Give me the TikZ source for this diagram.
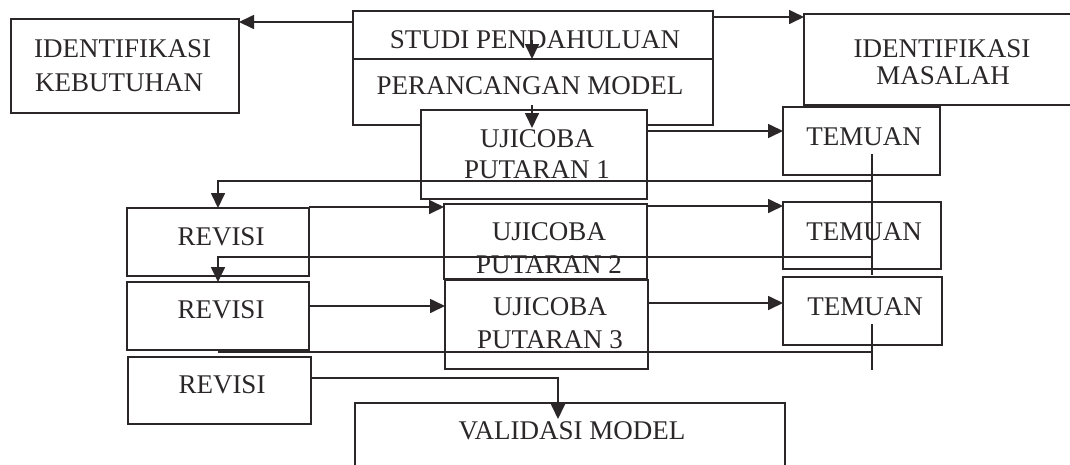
\documentclass[tikz,border=0pt]{standalone}
\usepackage{fontspec}
\setmainfont{Liberation Serif}
\usetikzlibrary{arrows.meta,fit}
\definecolor{ink}{HTML}{2B2728}
\tikzset{
  box/.style={draw=ink, line width=1.7pt, fill=white, inner sep=0pt, outer sep=0pt},
  lbl/.style={text=ink, font=\fontsize{27}{30}\selectfont, inner sep=0pt, anchor=base},
  conn/.style={draw=ink, line width=1.7pt},
  arr/.style={conn, -{Triangle[length=15pt,width=14pt]}},
}
\begin{document}
\begin{tikzpicture}[x=1pt,y=-1pt]
\useasboundingbox (0,0) rectangle (1070,464);
\fill[white] (0,0) rectangle (1070,464);
\clip (0,0) rectangle (1070,464);
% boxes
\node[box, fit={(11,19) (239,113)}] (keb) {};
\node[box, fit={(353,11) (713,125)}] (studi) {};
\draw[conn] (studi.west |- 0,59) -- (studi.east |- 0,59);
\node[box, fit={(804,14) (1090,105)}] (mas) {};
\node[box, fit={(421,110) (647,199)}] (u1) {};
\node[box, fit={(783,107) (940,175)}] (t1) {};
\node[box, fit={(444,204) (647,279)}] (u2) {};
\node[box, fit={(783,202) (941,269)}] (t2) {};
\node[box, fit={(127,208) (309,276)}] (r1) {};
\node[box, fit={(127,282) (309,350)}] (r2) {};
\node[box, fit={(445,280) (648,369)}] (u3) {};
\node[box, fit={(783,277) (942,345)}] (t3) {};
\node[box, fit={(128,357) (311,424)}] (r3) {};
\node[box, fit={(355,403) (785,490)}] (val) {};
% texts
\node[lbl, anchor=base west] (tk1) at (34,57) {IDENTIFIKASI};
\node[lbl, anchor=base west] (tk2) at (35,91) {KEBUTUHAN};
\node[lbl] (tm1) at (942,57) {IDENTIFIKASI};
\node[lbl] (tm2) at (943,84) {MASALAH};
\node[lbl] (ts) at (535,48) {STUDI PENDAHULUAN};
\node[lbl] (tp) at (530,94) {PERANCANGAN MODEL};
\node[lbl] (tu1a) at (537,147) {UJICOBA};
\node[lbl] (tu1b) at (537,178) {PUTARAN 1};
\node[lbl] (tu2a) at (549,240) {UJICOBA};
\node[lbl] (tu2b) at (549,273) {PUTARAN 2};
\node[lbl] (tu3a) at (550,315) {UJICOBA};
\node[lbl] (tu3b) at (550,348) {PUTARAN 3};
\node[lbl] (tr1) at (221,245) {REVISI};
\node[lbl] (tr2) at (221,318) {REVISI};
\node[lbl] (tr3) at (222,393) {REVISI};
\node[lbl] (tt1) at (864,145) {TEMUAN};
\node[lbl] (tt2) at (864,240) {TEMUAN};
\node[lbl] (tt3) at (865,315) {TEMUAN};
\node[lbl] (tv) at (572,439) {VALIDASI MODEL};
% helper coordinates
\coordinate (fbx) at (218,0);
\coordinate (fbv) at (872,0);
\coordinate (dx) at (532,0);
\coordinate (vx) at (558,0);
% connectors
\draw[arr] (studi.west |- 0,22) -- (keb.east |- 0,22);
\draw[arr] (studi.east |- 0,17) -- (mas.west |- 0,17);
\draw[arr] (dx |- 0,40) -- (dx |- 0,59);
\draw[arr] (dx |- 0,105) -- (dx |- 0,128);
\draw[arr] (u1.east |- 0,131) -- (t1.west |- 0,131);
\draw[arr] (u2.east |- 0,206) -- (t2.west |- 0,206);
\draw[arr] (u3.east |- 0,303) -- (t3.west |- 0,303);
\draw[arr] (r1.east |- 0,207) -- (u2.west |- 0,207);
\draw[arr] (r2.east |- 0,306) -- (u3.west |- 0,306);
\draw[conn] (fbv |- 0,154) -- (fbv |- 0,275);
\draw[conn] (fbv |- 0,324) -- (fbv |- 0,370);
\draw[arr] (fbv |- 0,181) -- (fbx |- 0,181) -- (r1.north -| fbx);
\draw[arr] (fbv |- 0,257) -- (fbx |- 0,257) -- (r2.north -| fbx);
\draw[conn] (fbv |- 0,352) -- (fbx |- 0,352);
\draw[arr] (r3.east |- 0,378) -- (vx |- 0,378) -- (vx |- 0,419);
\end{tikzpicture}
\end{document}
